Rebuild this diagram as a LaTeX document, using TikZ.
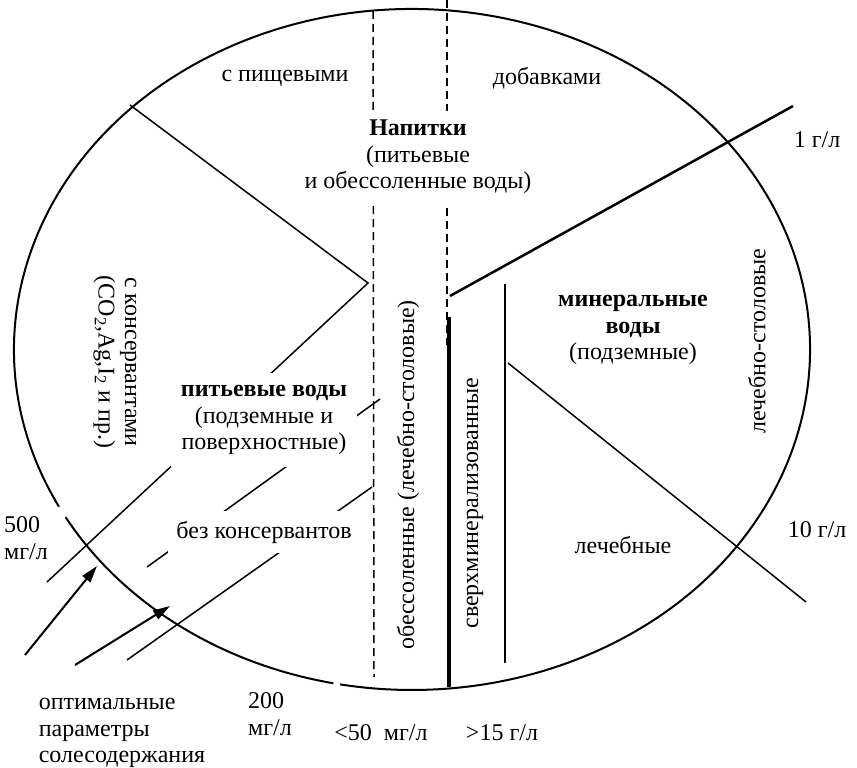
\documentclass[tikz,border=0pt]{standalone}
\usepackage{fontspec}
\setmainfont{Liberation Serif}
\usetikzlibrary{arrows,arrows.meta}
\tikzset{
	zona/.style = {align=center, inner sep=0pt, font=\fontsize{24}{26.5}\selectfont},% текст зоны
	zona_b/.style = {zona, fill=white, inner xsep=12pt, inner ysep=10pt},% текст, режущий линии
	zona_v/.style = {zona, rotate=90},% вертикальный текст
	kontur/.style = {line width=2pt},
	liniya/.style = {line width=1.5pt},
	shtrih/.style = {line width=1.5pt, dash pattern=on 8pt off 5pt},
	strelka/.style = {line width=2pt, -{Triangle[length=17pt, width=10pt]}}
}
\begin{document}
\begin{tikzpicture}[x=1pt, y=-1pt]
	\useasboundingbox (0,0) rectangle (857,768);
	\coordinate (ctr) at (412,349.5);
	% эллипс с двумя разрывами
	\draw[kontur] (ctr) ++(152.5:398 and 340.5) arc[start angle=152.5, end angle=460.4, x radius=398, y radius=340.5];
	\draw[kontur] (ctr) ++(101.4:398 and 340.5) arc[start angle=101.4, end angle=150.5, x radius=398, y radius=340.5];
	% точки линий
	\coordinate (ul) at (130,105);
	\coordinate (vtx) at (368,283);
	\coordinate (a2) at (47,582);
	\coordinate (b1) at (380,399);
	\coordinate (b2) at (147,567);
	\coordinate (c1) at (372,487);
	\coordinate (c2) at (127,660);
	\coordinate (d1t) at (373,11);
	\coordinate (d1b) at (374,677);
	\coordinate (d2t) at (447,0);
	\coordinate (d2b) at (447,345);
	\coordinate (tt) at (449,317);
	\coordinate (tb) at (449,687);
	\coordinate (vt) at (505,284);
	\coordinate (vb) at (505,663);
	\coordinate (g1a) at (450,296);
	\coordinate (g1b) at (793,106);
	\coordinate (g10a) at (508,363);
	\coordinate (g10b) at (806,602);
	\coordinate (s1) at (25,655);
	\coordinate (s1e) at (97,566);
	\coordinate (s2) at (75,665);
	\coordinate (s2e) at (170,606);
	\draw[liniya] (ul) -- (vtx) -- (a2);
	\draw[liniya] (b1) -- (b2);
	\draw[liniya] (c1) -- (c2);
	\draw[shtrih] (d1t) -- (d1b);
	\draw[shtrih] (d2t) -- (d2b);
	\draw[line width=3.5pt] (tt) -- (tb);
	\draw[liniya] (vt) -- (vb);
	\draw[line width=2.5pt] (g1a) -- (g1b);
	\draw[liniya] (g10a) -- (g10b);
	\draw[strelka] (s1) -- (s1e);
	\draw[strelka] (s2) -- (s2e);
	% тексты
	\node[zona] (pishch) at (285,78) {с пищевыми};
	\node[zona] (dobav) at (547,78) {добавками};
	\node[zona_b, inner ysep=9pt] (napitki) at (418,157) {\textbf{Напитки}\\(питьевые\\и обессоленные воды)};
	\node[zona, rotate=-90] (konserv) at (115,362) {с консервантами\\(CO\textsubscript{2},Ag,I\textsubscript{2} и пр.)};
	\node[zona_b, inner xsep=10pt, inner ysep=12pt] (pitev) at (264,420) {\textbf{питьевые воды}\\(подземные и\\поверхностные)};
	\node[zona_b, inner xsep=8pt] (bez) at (264,532) {без консервантов};
	\node[zona_v] (obessol) at (408,475) {обессоленные (лечебно-столовые)};
	\node[zona_v] (sverkh) at (475,503) {сверхминерализованные};
	\node[zona] (miner) at (633,330) {\textbf{минеральные}\\\textbf{воды}\\(подземные)};
	\node[zona_v] (lechstol) at (757,341) {лечебно-столовые};
	\node[zona] (lech) at (623,545) {лечебные};
	\node[zona] (g1) at (817,140) {1 г/л};
	\node[zona] (g10) at (817,530) {10 г/л};
	\node[zona, align=left] (m500) at (26,538) {500\\мг/л};
	\node[zona, align=left] (optim) at (122,733) {оптимальные\\параметры\\солесодержания};
	\node[zona, align=left] (m200) at (270,714) {200\\мг/л};
	\node[zona] (m50) at (381,733) {<50\enspace мг/л};
	\node[zona] (g15) at (502,733) {>15 г/л};
\end{tikzpicture}
\end{document}
